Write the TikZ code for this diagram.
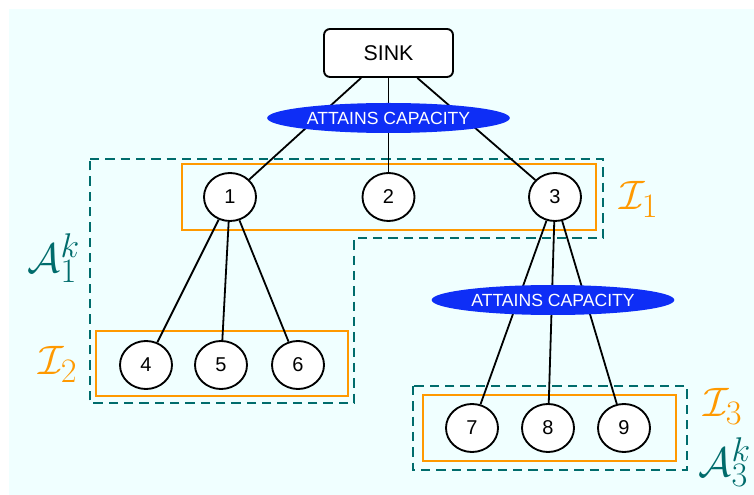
\documentclass[tikz,border=0pt]{standalone}
\usepackage{fontspec}
\setsansfont{Liberation Sans}
\usetikzlibrary{shapes.geometric}
\definecolor{bgc}{RGB}{240,255,255}
\definecolor{orng}{RGB}{255,153,0}
\definecolor{tealc}{RGB}{0,108,108}
\definecolor{capblue}{RGB}{14,46,246}
\newcommand{\biglab}[1]{\scalebox{1.24}{$#1$}}
\begin{document}
\begin{tikzpicture}[x=0.75pt,y=-0.75pt,
 vert/.style={ellipse, draw, line width=1.4pt, fill=white, minimum width=39pt, minimum height=36pt, inner sep=0pt, font=\sffamily\fontsize{15}{15}\selectfont},
 sinkbox/.style={rectangle, rounded corners=4.5pt, draw, line width=1.4pt, fill=white, minimum width=96.75pt, minimum height=36pt, font=\sffamily\fontsize{16}{16}\selectfont},
 capnode/.style={ellipse, fill=capblue, text=white, minimum width=182pt, minimum height=22.5pt, inner sep=0pt, font=\sffamily\fontsize{13.2}{13.2}\selectfont},
 conn/.style={line width=1.35pt},
 setbox/.style={draw=orng, line width=1.5pt},
 grpbox/.style={draw=tealc, line width=1.5pt, dash pattern=on 7pt off 4.5pt},
 setlab/.style={text=orng, inner sep=0pt, font=\fontsize{24.88}{25}\selectfont},
 grplab/.style={text=tealc, inner sep=0pt, font=\fontsize{24.88}{25}\selectfont}
]
\useasboundingbox (0,0) rectangle (754,495);
\fill[bgc] (9,9) rectangle (754,495);

% group and set boxes
\draw[grpbox] (90,159) -- (603,159) -- (603,238) -- (354,238) -- (354,403) -- (90,403) -- cycle;
\draw[grpbox] (413,386) rectangle (687,470);
\draw[setbox] (182,164) rectangle (596,230);
\draw[setbox] (96,331) rectangle (348,396);
\draw[setbox] (423,395) rectangle (676,461);

% nodes
\node[sinkbox] (sink) at (388.5,53) {SINK};
\node[vert] (n1) at (230,197) {1};
\node[vert] (n2) at (388.5,197) {2};
\node[vert] (n3) at (555,197) {3};
\node[vert] (n4) at (146,365) {4};
\node[vert] (n5) at (221,365) {5};
\node[vert] (n6) at (298,365) {6};
\node[vert] (n7) at (472,428) {7};
\node[vert] (n8) at (548,428) {8};
\node[vert] (n9) at (624,428) {9};

% connectors
\draw[conn] (sink) -- (n1);
\draw[conn] (sink) -- (n2);
\draw[conn] (sink) -- (n3);
\draw[conn] (n1) -- (n4);
\draw[conn] (n1) -- (n5);
\draw[conn] (n1) -- (n6);
\draw[conn] (n3) -- (n7);
\draw[conn] (n3) -- (n8);
\draw[conn] (n3) -- (n9);

% capacity labels
\node[capnode] (cap1) at (388.5,118) {ATTAINS CAPACITY};
\node[capnode] (cap2) at (553,300) {ATTAINS CAPACITY};

% set labels
\node[setlab] (i1) at (639,199) {\biglab{\mathcal{I}_1}};
\node[setlab] (i2) at (58,364) {\biglab{\mathcal{I}_2}};
\node[setlab] (i3) at (723,406) {\biglab{\mathcal{I}_3}};
\node[grplab] (a1) at (54,258) {\biglab{\mathcal{A}_1^k}};
\node[grplab] (a3) at (725,462) {\biglab{\mathcal{A}_3^k}};
\end{tikzpicture}
\end{document}
